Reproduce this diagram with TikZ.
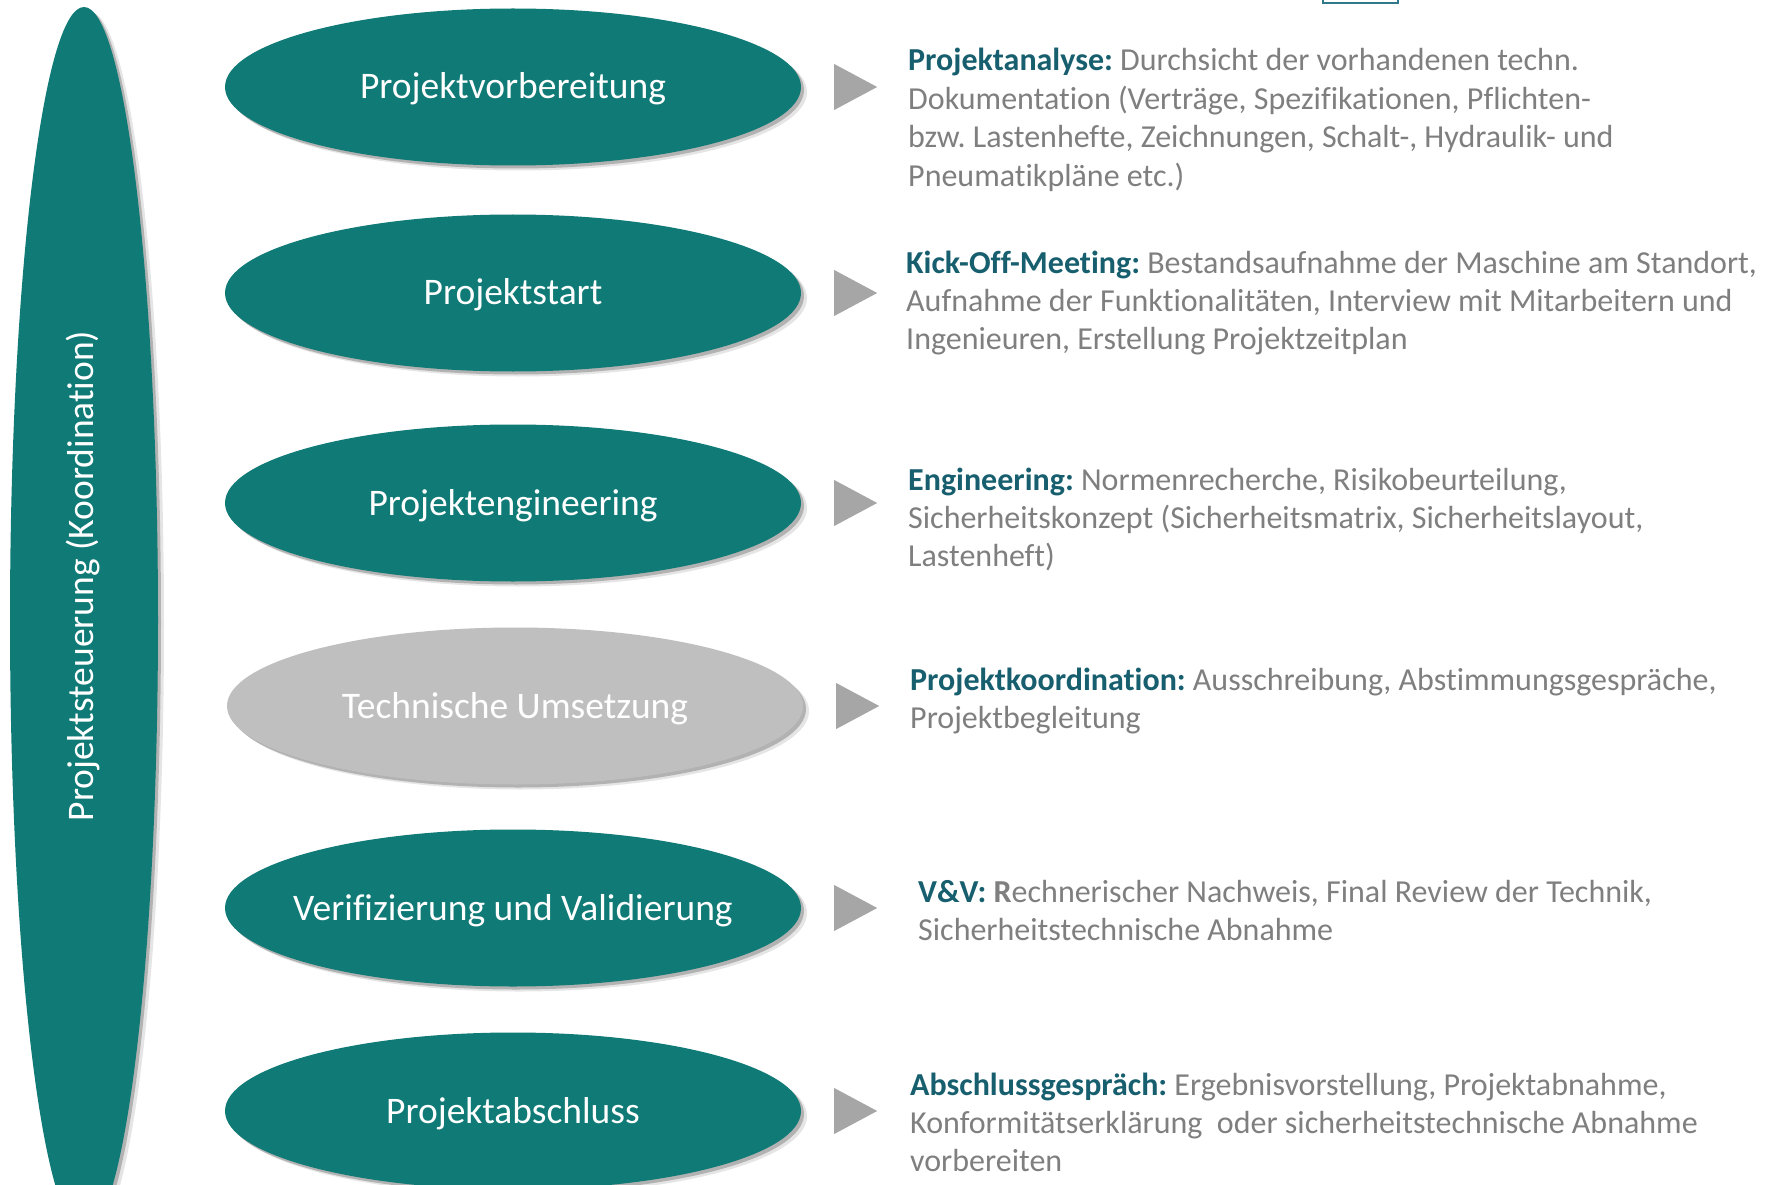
\documentclass[tikz,border=0pt]{standalone}
\usepackage{fontspec}
\setmainfont{Carlito}[Ligatures={NoCommon}]
\usetikzlibrary{shapes.geometric,shadows,calc}
\definecolor{tealA}{HTML}{0F7A76}
\definecolor{headC}{HTML}{175F6E}
\definecolor{txtC}{HTML}{7F7F7F}
\definecolor{triC}{HTML}{A6A6A6}
\definecolor{grayE}{HTML}{BFBFBF}
\definecolor{boxC}{HTML}{31788A}
\pgfdeclarelayer{background}
\pgfsetlayers{background,main}
\frenchspacing
\tikzset{
  softshadow/.style={
    drop shadow={shadow xshift=3pt,shadow yshift=-3pt,opacity=0.22,fill=black},
    drop shadow={shadow xshift=6pt,shadow yshift=-5pt,opacity=0.10,fill=black}},
  phase/.style={ellipse,fill=tealA,minimum width=576pt,minimum height=157pt,
    inner xsep=-120pt,inner ysep=0pt,text height=30pt,text depth=6pt,
    text=white,font=\fontsize{37.5}{45}\selectfont,softshadow},
  phasegray/.style={phase,fill=grayE},
  desc/.style={anchor=base west,inner sep=0pt,align=left,text=txtC,
    font=\fontsize{32}{38.4}\selectfont\frenchspacing},
  downtri/.style={fill=triC},
  righttri/.style={fill=triC},
}
\newcommand{\hd}[1]{\textbf{\color{headC}#1}}
\begin{document}
\begin{tikzpicture}[x=1pt,y=-1pt]
\clip (0,0) rectangle (1773,1185);
\fill[white] (0,0) rectangle (1773,1185);
% small box at the top
\draw[boxC,line width=2pt] (1323,-20) rectangle (1398,3);
% left ellipse
\node[ellipse,fill=tealA,minimum width=148pt,minimum height=1226pt,inner sep=0pt,softshadow] (ctrl) at (84,620) {};
\node[rotate=90,text=white,inner sep=0pt,font=\fontsize{37.5}{45}\selectfont] (ctrltxt) at (83,576) {Projektsteuerung (Koordination)};
% phases
\node[phase] (e1) at (513,87) {Projektvorbereitung};
\node[phase] (e2) at (513,293) {Projektstart};
\node[phase] (e3) at (513,503) {Projektengineering};
\node[phasegray] (e4) at (515,706) {Technische Umsetzung};
\node[phase] (e5) at (513,908) {Verifizierung und Validierung};
\node[phase] (e6) at (513,1111) {Projektabschluss};
\begin{pgfonlayer}{background}
\foreach \a/\b in {e1/e2,e2/e3,e3/e4,e4/e5,e5/e6}{
  \fill[downtri] ($(\a.south)+(-33,-12)$) -- ($(\a.south)+(33,-12)$) -- ($(\b.north)+(0,-5)$) -- cycle;
}
\end{pgfonlayer}
\foreach \a in {e1,e2,e3,e4,e5,e6}{
  \fill[righttri] ($(\a.east)+(33,-23)$) -- ($(\a.east)+(33,23)$) -- ($(\a.east)+(76,0)$) -- cycle;
}
% descriptions (anchor = baseline of the last line)
\node[desc] (t1) at (908,186.2) {\hd{Projektanalyse:} Durchsicht der vorhandenen techn.\\Dokumentation (Verträge, Spezifikationen, Pflichten-\\bzw. Lastenhefte, Zeichnungen, Schalt-, Hydraulik- und\\Pneumatikpläne etc.)};
\node[desc] (t2) at (906,349.8) {\hd{Kick-Off-Meeting:} Bestandsaufnahme der Maschine am Standort,\\Aufnahme der Funktionalitäten, Interview mit Mitarbeitern und\\Ingenieuren, Erstellung Projektzeitplan};
\node[desc] (t3) at (908,566.8) {\hd{Engineering:} Normenrecherche, Risikobeurteilung,\\Sicherheitskonzept (Sicherheitsmatrix, Sicherheitslayout,\\Lastenheft)};
\node[desc] (t4) at (910,728.4) {\hd{Projektkoordination:} Ausschreibung, Abstimmungsgespräche,\\Projektbegleitung};
\node[desc] (t5) at (918,940.4) {\hd{V\&V:} \textbf{R}echnerischer Nachweis, Final Review der Technik,\\Sicherheitstechnische Abnahme};
\node[desc] (t6) at (910,1171.8) {\hd{Abschlussgespräch:} Ergebnisvorstellung, Projektabnahme,\\Konformitätserklärung\ \ oder sicherheitstechnische Abnahme\\vorbereiten};
\end{tikzpicture}
\end{document}
